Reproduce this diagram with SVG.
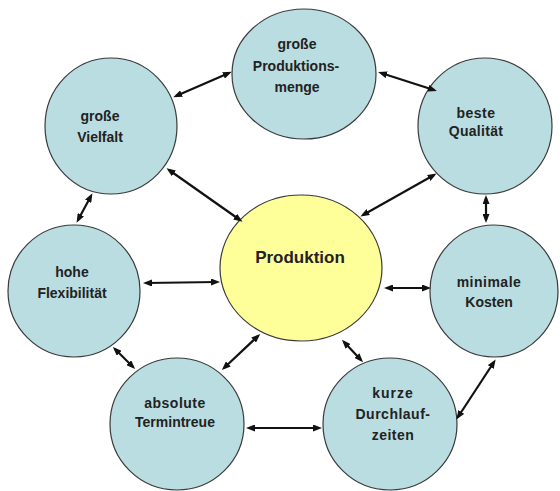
<svg xmlns="http://www.w3.org/2000/svg" width="560" height="491" viewBox="0 0 560 491">
<defs>
<marker id="ah" viewBox="0 0 9 7" refX="6" refY="3.5" markerWidth="9" markerHeight="7" markerUnits="userSpaceOnUse" orient="auto-start-reverse">
<path d="M0,0 L9,3.5 L0,7 z" fill="#111"/>
</marker>
<style>
.n{fill:#b9dde1;stroke:#3a3a3a;stroke-width:1.2}
.c{fill:#ffff99;stroke:#3a3a3a;stroke-width:1.2}
.t{font-family:"Liberation Sans",Arial,sans-serif;font-weight:bold;font-size:14px;fill:#222;text-anchor:middle}
.tc{font-size:17px}
.e line{stroke:#111;stroke-width:2.2;marker-start:url(#ah);marker-end:url(#ah)}
</style>
</defs>
<rect width="560" height="491" fill="#fff"/>
<g id="n-produktion"><ellipse class="c" cx="301" cy="268" rx="81" ry="73"/><text class="t tc" x="300" y="263">Produktion</text></g>
<g id="n-vielfalt"><ellipse class="n" cx="111" cy="126" rx="66" ry="68"/><text class="t" x="100" y="121">große</text><text class="t" x="100" y="142">Vielfalt</text></g>
<g id="n-menge"><ellipse class="n" cx="304" cy="74" rx="72" ry="65"/><text class="t" x="297" y="49">große</text><text class="t" x="296" y="71">Produktions-</text><text class="t" x="297" y="92">menge</text></g>
<g id="n-qualitaet"><ellipse class="n" cx="485" cy="126" rx="67" ry="68"/><text class="t" x="476" y="118" letter-spacing="0.5">beste</text><text class="t" x="476" y="136" letter-spacing="0.3">Qualität</text></g>
<g id="n-flexibilitaet"><ellipse class="n" cx="74" cy="291" rx="66" ry="66"/><text class="t" x="72" y="277">hohe</text><text class="t" x="72" y="298">Flexibilität</text></g>
<g id="n-kosten"><ellipse class="n" cx="494" cy="291" rx="64" ry="66"/><text class="t" x="489" y="287" letter-spacing="0.5">minimale</text><text class="t" x="489" y="307">Kosten</text></g>
<g id="n-termintreue"><ellipse class="n" cx="177" cy="424" rx="67" ry="66"/><text class="t" x="175" y="408" letter-spacing="0.5">absolute</text><text class="t" x="175" y="427">Termintreue</text></g>
<g id="n-durchlauf"><ellipse class="n" cx="390" cy="424" rx="67" ry="66"/><text class="t" x="393" y="398" letter-spacing="1">kurze</text><text class="t" x="393" y="419" letter-spacing="0.5">Durchlauf-</text><text class="t" x="393" y="440" letter-spacing="0.5">zeiten</text></g>
<g id="connectors" class="e">
<line x1="176" y1="96" x2="229" y2="73"/>
<line x1="381" y1="73" x2="434" y2="90"/>
<line x1="169" y1="170" x2="240" y2="220"/>
<line x1="434" y1="175" x2="363" y2="215"/>
<line x1="91" y1="196" x2="78" y2="220"/>
<line x1="486" y1="198" x2="486" y2="220"/>
<line x1="146" y1="283" x2="217" y2="282"/>
<line x1="387" y1="288" x2="428" y2="288"/>
<line x1="115" y1="349" x2="133" y2="367"/>
<line x1="258" y1="336" x2="224" y2="368"/>
<line x1="344" y1="342" x2="361" y2="360"/>
<line x1="249" y1="428" x2="319" y2="428"/>
<line x1="494" y1="362" x2="458" y2="417"/>
</g>
</svg>
